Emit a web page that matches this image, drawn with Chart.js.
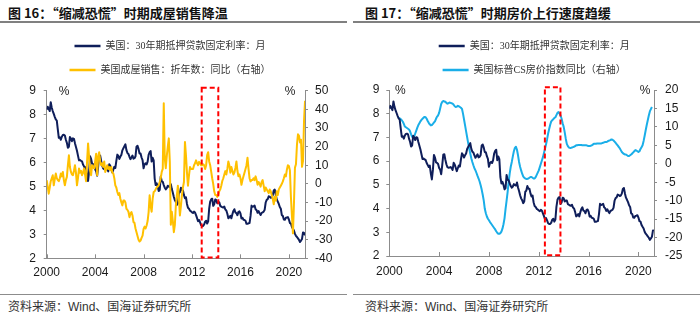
<!DOCTYPE html>
<html lang="zh-CN">
<head>
<meta charset="utf-8">
<title>缩减恐慌时期的美国房地产</title>
<script src="https://cdn.jsdelivr.net/npm/chart.js@4.4.1/dist/chart.umd.min.js"></script>
<style>
  html, body { margin: 0; padding: 0; background: #fff; }
  body { position: relative; width: 700px; height: 328px; overflow: hidden; }
  .title { position: absolute; top: 4px; font: bold 13px/18px "Noto Sans CJK SC", sans-serif; color: #111; white-space: nowrap; }
  .rule { position: absolute; top: 21px; height: 2px; background: #808080; }
  .foot-rule { position: absolute; top: 294px; height: 1px; background: #8c8c8c; }
  .source { position: absolute; top: 299px; font: 12px/16px "Liberation Sans", "Noto Sans CJK SC", sans-serif; color: #333; white-space: nowrap; }
  .panel { position: absolute; top: 27px; width: 350px; height: 268px; }
</style>
</head>
<body>
<div class="title" style="left:8px">图 16：“缩减恐慌”时期成屋销售降温</div>
<div class="rule" style="left:0;width:347px"></div>
<div class="title" style="left:365px">图 17：“缩减恐慌”时期房价上行速度趋缓</div>
<div class="rule" style="left:353px;width:347px"></div>

<canvas id="c16" class="panel" width="350" height="268" style="left:0"></canvas>
<canvas id="c17" class="panel" width="350" height="268" style="left:350px"></canvas>

<div class="foot-rule" style="left:0;width:347px"></div>
<div class="foot-rule" style="left:353px;width:347px"></div>
<div class="source" style="left:8px">资料来源：Wind、国海证券研究所</div>
<div class="source" style="left:365px">资料来源：Wind、国海证券研究所</div>

<script>
// 横轴年份刻度
const yearTicks = [2000, 2004, 2008, 2012, 2016, 2020];

// 30年期抵押贷款固定利率（%），月度，2000-01 起
const mortgageRate = [
  8.21, 8.33, 8.24, 8.15, 8.52, 8.29, 8.15, 8.03, 7.91, 7.80, 7.75, 7.38,
  7.03, 7.05, 6.95, 7.08, 7.15, 7.16, 7.13, 6.95, 6.82, 6.62, 6.66, 7.07,
  7.00, 6.89, 7.01, 6.99, 6.81, 6.65, 6.49, 6.29, 6.09, 6.11, 6.07, 6.05,
  5.92, 5.84, 5.75, 5.81, 5.48, 5.23, 5.63, 6.26, 6.15, 5.95, 5.93, 5.88,
  5.71, 5.64, 5.45, 5.83, 6.27, 6.29, 6.06, 5.87, 5.75, 5.72, 5.73, 5.75,
  5.71, 5.63, 5.93, 5.86, 5.72, 5.58, 5.70, 5.82, 5.77, 6.07, 6.33, 6.27,
  6.15, 6.25, 6.32, 6.51, 6.60, 6.68, 6.76, 6.52, 6.40, 6.36, 6.24, 6.14,
  6.22, 6.29, 6.16, 6.18, 6.26, 6.66, 6.70, 6.57, 6.38, 6.38, 6.21, 6.10,
  5.76, 5.92, 5.97, 5.92, 6.04, 6.32, 6.43, 6.48, 6.04, 6.20, 6.09, 5.33,
  5.06, 5.13, 5.00, 4.81, 4.86, 5.42, 5.22, 5.19, 5.06, 4.95, 4.88, 4.93,
  5.03, 4.99, 4.97, 5.10, 4.89, 4.74, 4.56, 4.43, 4.35, 4.23, 4.30, 4.71,
  4.76, 4.95, 4.84, 4.84, 4.64, 4.51, 4.55, 4.27, 4.11, 4.07, 3.99, 3.96,
  3.92, 3.89, 3.95, 3.91, 3.80, 3.68, 3.55, 3.60, 3.50, 3.38, 3.35, 3.35,
  3.41, 3.53, 3.57, 3.45, 3.54, 4.07, 4.37, 4.46, 4.49, 4.19, 4.26, 4.46,
  4.43, 4.30, 4.34, 4.34, 4.19, 4.16, 4.13, 4.12, 4.16, 4.04, 4.00, 3.86,
  3.67, 3.71, 3.77, 3.67, 3.84, 3.98, 4.05, 3.91, 3.89, 3.80, 3.94, 3.96,
  3.87, 3.66, 3.69, 3.61, 3.60, 3.57, 3.44, 3.44, 3.46, 3.47, 3.77, 4.20,
  4.15, 4.17, 4.20, 4.05, 4.01, 3.90, 3.97, 3.88, 3.81, 3.90, 3.92, 3.95,
  4.03, 4.33, 4.44, 4.47, 4.59, 4.57, 4.53, 4.55, 4.63, 4.83, 4.87, 4.64,
  4.46, 4.37, 4.27, 4.14, 4.07, 3.80, 3.77, 3.62, 3.61, 3.69, 3.70, 3.72,
  3.62, 3.47, 3.45, 3.31, 3.23, 3.16, 3.02, 2.94, 2.89, 2.83, 2.77, 2.68,
  2.74, 2.81, 3.08, 3.06, 2.96
];

// 成屋销售折年数同比（%），月度，2000-01 起
const homeSalesYoY = [
  1.9, -1.5, -5.3, -2, 1.4, 3, 4.6, -0.8, 2.5, 5.5, 3, 2,
  1.4, 3, 5.5, 4, 6.4, 2, -0.8, 2, 3.7, 10, 15.3, 9,
  6.4, 5, 4.6, 7, 10, 6, -0.8, 3, 8.2, 6, 7, 4.6,
  6, 8.2, 5, 1.4, 12, 21.7, 14.5, 7, 4.6, 10, 9, 8.2,
  12, 16.2, 4.6, 14.5, 17, 12, 10, 11, 9.1, 12, 6.4, 8,
  10, 8, 9, 7.3, 9, 6, 5.5, 3, -0.8, -2, -4.4, -6,
  -5, -8, -10, -11.6, -9, -8.9, -10, -13.4, -14, -15, -17.9, -16,
  -15.2, -17, -20.6, -21, -24, -26, -28, -30, -31, -30.5, -29, -27.8,
  -24.2, -23, -24, -22.4, -20, -15.2, -6.2, -12, -15, -8, -4.4, -4,
  -3, -2, -1.5, -0.8, 1, 3, 6.4, 8, 43.2, 13.6, 8.4, 15,
  20, 24.4, 11.8, -22, -15, -20, -26, -22, -11.6, -6, -1, -8,
  -17, -12, -6, -2, 1, 22.5, 15.3, 6, -1, 4.5, 9, 8,
  8, 8, 10, 11, 12.6, 11, 10, 11.8, 11, 10, 10, 10.5,
  10, 8, 10, 15.4, 17, 12, 10, 6.5, 3, 0, -4, -6,
  -6, -7, -6, -4, -3, -1, 1.5, 3, 5, 6.8, 5, 8,
  12, 10, 6, 9, 7, 5, 6, 8.5, 12, 7, 4, 5,
  3, -0.5, 2, 4, 6, 8, 10, 14, 8, 3, 1.3, 2,
  2, 3, 2, 4, 2, -0.5, 1, 0, -1.5, 1, 2, -1,
  -4, -2, -3, -4, -5, -3, -4, -6, -8, -11, -7, -9,
  -4, -6, -3, -2, -1, 0, 1.3, 3, 5, 4, 7.6, 10,
  9.6, 7.2, -7, -17, -26.6, -11, 8.7, 10.5, 21, 26.6, 25.8, 22.2,
  23.7, 9.1, 12.3, 33.9, 44.6
];

// 标普CS房价指数同比（%），月度，2000-10 起
const csStart = 2000 + 9 / 12;
const csYoY = [
  12.4, 12.3, 12.1,
  11.8, 11.4, 10.8, 10.1, 9.9, 9.7, 9.5, 9.3, 8.8, 8.0, 7.3, 7.0,
  7.4, 8.2, 9.0, 9.8, 10.5, 11.0, 11.5, 11.9, 12.2, 12.5, 12.7, 12.6,
  12.2, 11.6, 11.1, 10.7, 10.4, 10.5, 10.8, 11.2, 11.5, 12.2, 12.8, 13.1,
  13.8, 15.0, 16.2, 16.8, 17.0, 16.9, 16.8, 16.5, 16.3, 16.4, 16.6, 16.5,
  16.4, 16.3, 16.0, 15.6, 15.4, 15.5, 15.7, 15.6, 15.4, 15.2, 14.9, 13.6,
  12.0, 10.4, 8.8, 7.2, 5.6, 4.1, 2.8, 1.5, 0.5, -0.4, -1.2, -1.8,
  -2.5, -3.3, -4.0, -4.8, -5.8, -7.0, -8.4, -10.0, -12.2, -13.4, -14.3, -14.9,
  -15.3, -15.8, -16.2, -16.6, -17.0, -17.4, -17.8, -18.3, -18.7, -19.0, -19.0, -18.8,
  -18.4, -17.6, -16.4, -14.8, -12.2, -10.0, -7.6, -4.9, -2.6, -0.8, 0.5, 2.0,
  3.4, 4.3, 4.6, 3.8, 2.3, 0.5, -0.8, -1.8, -2.7, -3.4, -3.8, -4.0,
  -4.1, -4.1, -4.0, -3.8, -3.6, -3.6, -3.8, -4.0, -4.0, -3.6, -3.0, -2.4,
  -1.8, -0.9, 0.0, 0.9, 1.8, 2.9, 4.1, 5.3, 6.6, 8.2, 9.4, 10.6,
  11.5, 11.8, 12.1, 12.4, 12.6, 13.2, 13.8, 14.0, 13.6, 13.1, 12.2, 11.0,
  10.0, 8.5, 6.8, 5.4, 4.8, 4.4, 4.3, 4.3, 4.4, 4.5, 4.6, 4.8,
  5.0, 5.0, 5.1, 5.1, 5.1, 5.1, 5.0, 5.0, 5.0, 5.0, 5.0, 4.9,
  4.8, 4.8, 4.9, 5.0, 5.2, 5.4, 5.4, 5.4, 5.5, 5.5, 5.5, 5.5,
  5.5, 5.6, 5.7, 5.8, 5.9, 5.9, 6.0, 6.2, 6.3, 6.4, 6.6, 6.5,
  6.3, 6.0, 5.7, 5.3, 5.0, 4.6, 4.2, 3.7, 3.2, 2.9, 2.7, 2.5,
  2.5, 2.3, 2.1, 2.1, 2.3, 2.5, 2.8, 3.1, 3.4, 3.7, 3.6, 3.4,
  3.2, 3.4, 4.0, 4.5, 5.0, 6.2, 7.6, 9.1, 10.5, 11.8, 13.1, 14.2,
  14.8, 15.4
];

// 缩减恐慌区间（年份）
const taperWindow16 = [2012.8, 2014.17];
const taperWindow17 = [2012.49, 2013.74];

const NAVY = '#0f1e5a';
const GOLD = '#ffc000';
const SKY = '#1aaee8';
const AXIS = '#8c8c8c';
const TICK_FONT = { family: '"Liberation Sans", Arial, sans-serif', size: 12 };
const LEGEND_FONT = { family: '"Liberation Serif", "Noto Sans CJK SC", serif', size: 10 };

function monthly(values, start) {
  return values.map((v, i) => ({ x: start + i / 12, y: v }));
}

// 图例下方留出空白，让绘图区落在合适的位置
const legendGap = {
  id: 'legendGap',
  afterInit(chart, args, opts) {
    const legend = chart.legend;
    const fit = legend.fit;
    legend.fit = function () {
      fit.call(this);
      this.height += opts.gap;
    };
  }
};

// 横轴内向刻度、红色虚线框和单位
const decor = {
  id: 'decor',
  afterDatasetsDraw(chart, args, opts) {
    const { ctx, chartArea: area, scales: { x, y } } = chart;
    ctx.save();
    ctx.strokeStyle = AXIS;
    ctx.lineWidth = 1;
    yearTicks.forEach(v => {
      const px = Math.round(x.getPixelForValue(v)) + 0.5;
      ctx.beginPath();
      ctx.moveTo(px, area.bottom);
      ctx.lineTo(px, area.bottom - 4);
      ctx.stroke();
    });

    const [from, to] = opts.window;
    const left = x.getPixelForValue(from);
    const right = x.getPixelForValue(to);
    const top = y.getPixelForValue(9.12);
    const bottom = y.getPixelForValue(2.03);
    ctx.strokeStyle = '#ff0000';
    ctx.lineWidth = 2;
    ctx.setLineDash([5, 3]);
    ctx.strokeRect(left, top, right - left, bottom - top);
    ctx.setLineDash([]);

    ctx.fillStyle = '#222';
    ctx.font = '12px "Liberation Sans", Arial, sans-serif';
    ctx.textAlign = 'center';
    ctx.textBaseline = 'middle';
    ctx.fillText('%', area.left + opts.unitInset[0], area.top + 1);
    ctx.fillText('%', area.right - opts.unitInset[1], area.top + 1);
    ctx.restore();
  }
};

function buildChart(id, o) {
  return new Chart(document.getElementById(id), {
    type: 'line',
    data: { datasets: o.datasets },
    plugins: [legendGap, decor],
    options: {
      responsive: false,
      devicePixelRatio: 1,
      animation: false,
      events: [],
      layout: { padding: o.padding },
      elements: {
        point: { radius: 0, borderWidth: 2.5 },
        line: { borderWidth: 2, tension: 0, borderJoinStyle: 'round' }
      },
      plugins: {
        tooltip: { enabled: false },
        legendGap: { gap: o.gap },
        decor: { window: o.window, unitInset: o.unitInset },
        legend: {
          position: 'top',
          labels: {
            usePointStyle: true,
            pointStyle: 'line',
            pointStyleWidth: 26,
            font: LEGEND_FONT,
            color: '#333',
            padding: 14,
            sort: (a, b) => a.datasetIndex - b.datasetIndex
          }
        }
      },
      scales: {
        x: {
          type: 'linear',
          min: 2000,
          max: o.xMax,
          afterBuildTicks: s => { s.ticks = yearTicks.map(v => ({ value: v })); },
          afterFit: s => { s.height = o.xHeight; },
          grid: { display: false, drawTicks: false },
          border: { color: AXIS },
          ticks: { font: TICK_FONT, color: '#1a1a1a', padding: o.xPad, maxRotation: 0, callback: v => String(v) }
        },
        y: {
          position: 'left',
          min: 2,
          max: 9,
          afterFit: s => { s.width = o.leftWidth; },
          grid: { drawOnChartArea: false, tickLength: 3, color: AXIS },
          border: { color: AXIS },
          ticks: { stepSize: 1, font: TICK_FONT, color: '#1a1a1a', padding: o.leftPad }
        },
        y1: {
          position: 'right',
          min: o.right[0],
          max: o.right[1],
          afterFit: s => { s.width = o.rightWidth; },
          grid: { drawOnChartArea: false, tickLength: 3, color: AXIS },
          border: { color: AXIS },
          ticks: { stepSize: o.right[2], font: TICK_FONT, color: '#1a1a1a', padding: o.rightPad }
        }
      }
    }
  });
}

const rateLabel = '美国：30年期抵押贷款固定利率：月';

// 左右内边距用来把图例挪到合适的水平位置，轴宽随之补齐
buildChart('c16', {
  datasets: [
    { label: rateLabel, data: monthly(mortgageRate, 2000), yAxisID: 'y',
      borderColor: NAVY, backgroundColor: NAVY, order: 1 },
    { label: '美国成屋销售：折年数：同比（右轴）', data: monthly(homeSalesYoY, 2000), yAxisID: 'y1',
      borderColor: GOLD, backgroundColor: GOLD, order: 0 }
  ],
  xMax: 2021.33, xHeight: 36.7, xPad: 7,
  leftWidth: 49.7, leftPad: 7.7,
  rightWidth: 38, rightPad: 7, right: [-40, 50, 10],
  padding: { left: -3, right: 7 },
  gap: 5.7,
  window: taperWindow16,
  unitInset: [17.3, 15]
});

buildChart('c17', {
  datasets: [
    { label: rateLabel, data: monthly(mortgageRate, 2000), yAxisID: 'y',
      borderColor: NAVY, backgroundColor: NAVY },
    { label: '美国标普CS房价指数同比（右轴）', data: monthly(csYoY, csStart), yAxisID: 'y1',
      borderColor: SKY, backgroundColor: SKY }
  ],
  xMax: 2021.25, xHeight: 39, xPad: 8,
  leftWidth: 39.3, leftPad: 7,
  rightWidth: 64.4, rightPad: 8, right: [-25, 20, 5],
  padding: { left: 0, right: -18.4 },
  gap: 5,
  window: taperWindow17,
  unitInset: [11, 9]
});
</script>
</body>
</html>
